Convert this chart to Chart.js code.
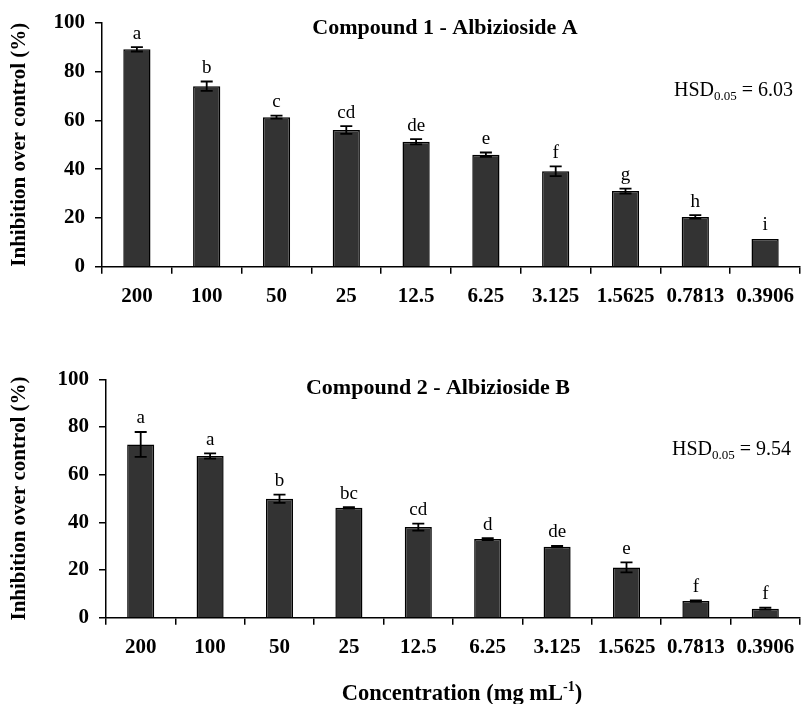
<!DOCTYPE html>
<html>
<head>
<meta charset="utf-8">
<script src="https://cdn.jsdelivr.net/npm/chart.js@4"></script>
<style>
  html, body { margin: 0; padding: 0; background: #fff; }
  body { width: 801px; height: 704px; position: relative; overflow: hidden; }
  .wrap { position: absolute; left: 0; width: 801px; }
</style>
</head>
<body>
<div class="wrap" style="top:0;height:312px;"><canvas id="c1"></canvas></div>
<div class="wrap" style="top:340px;height:364px;"><canvas id="c2"></canvas></div>
<script>
const categories = ["200", "100", "50", "25", "12.5", "6.25", "3.125", "1.5625", "0.7813", "0.3906"];
const yTicks = [0, 20, 40, 60, 80, 100];

const compound1Values = [89.1, 74.0, 61.3, 56.0, 51.2, 45.9, 39.1, 31.0, 20.4, 11.4];
const compound1Errors = [0.9, 1.9, 0.6, 1.6, 1.1, 0.9, 2.0, 1.0, 0.7, 0];
const compound1Letters = ["a", "b", "c", "cd", "de", "e", "f", "g", "h", "i"];

const compound2Values = [72.7, 67.8, 49.9, 46.1, 38.0, 33.0, 29.8, 21.1, 7.0, 3.8];
const compound2Errors = [5.2, 1.1, 1.7, 0.3, 1.5, 0.4, 0.3, 2.1, 0.3, 0.4];
const compound2Letters = ["a", "a", "b", "bc", "cd", "d", "de", "e", "f", "f"];

const title1 = "Compound 1 - Albizioside A";
const title2 = "Compound 2 - Albizioside B";
const hsd1 = "6.03";
const hsd2 = "9.54";
const yTitle = "Inhibition over control (%)";

const SERIF = "'Liberation Serif', 'Times New Roman', serif";

function drawHSD(ctx, rightX, baseY, value) {
  ctx.save();
  ctx.fillStyle = '#000';
  ctx.textBaseline = 'alphabetic';
  ctx.textAlign = 'left';
  const big = "20px " + SERIF, small = "13px " + SERIF;
  ctx.font = big; const w1 = ctx.measureText("HSD").width;
  ctx.font = small; const w2 = ctx.measureText("0.05").width;
  ctx.font = big; const w3 = ctx.measureText(" = " + value).width;
  let x = rightX - (w1 + w2 + w3);
  ctx.font = big; ctx.fillText("HSD", x, baseY); x += w1;
  ctx.font = small; ctx.fillText("0.05", x, baseY + 4); x += w2;
  ctx.font = big; ctx.fillText(" = " + value, x, baseY);
  ctx.restore();
}

function makePlugin(opts) {
  return {
    id: 'extras' + opts.key,
    afterDatasetsDraw(chart) {
      const ctx = chart.ctx;
      const y = chart.scales.y;
      const meta = chart.getDatasetMeta(0);
      ctx.save();
      ctx.strokeStyle = '#000';
      ctx.lineWidth = 1.8;
      ctx.fillStyle = '#000';
      ctx.font = "19px " + SERIF;
      ctx.textAlign = 'center';
      ctx.textBaseline = 'alphabetic';
      opts.values.forEach((v, i) => {
        const e = opts.errors[i];
        const x = meta.data[i].x;
        const yt = y.getPixelForValue(v + e);
        const yb = y.getPixelForValue(v - e);
        if (e > 0) {
          ctx.beginPath();
          ctx.moveTo(x, yt); ctx.lineTo(x, yb);
          ctx.moveTo(x - 6, yt); ctx.lineTo(x + 6, yt);
          ctx.moveTo(x - 6, yb); ctx.lineTo(x + 6, yb);
          ctx.stroke();
        }
        ctx.fillText(opts.letters[i], x, yt - 8.5);
      });
      // title
      ctx.font = "bold 22px " + SERIF;
      ctx.fillText(opts.title, opts.titleX, opts.titleY);
      ctx.restore();
      drawHSD(ctx, opts.hsdRight, opts.hsdY, opts.hsd);
      if (opts.xTitle) {
        ctx.save();
        ctx.fillStyle = '#000';
        ctx.textBaseline = 'alphabetic';
        ctx.textAlign = 'left';
        const big = "bold 22.5px " + SERIF, small = "bold 14px " + SERIF;
        const a = "Concentration (mg mL", s = "-1", b = ")";
        ctx.font = big; const wa = ctx.measureText(a).width, wb = ctx.measureText(b).width;
        ctx.font = small; const ws = ctx.measureText(s).width;
        let x = opts.xTitleX - (wa + ws + wb) / 2;
        ctx.font = big; ctx.fillText(a, x, opts.xTitleY); x += wa;
        ctx.font = small; ctx.fillText(s, x, opts.xTitleY - 9); x += ws;
        ctx.font = big; ctx.fillText(b, x, opts.xTitleY);
        ctx.restore();
      }
    }
  };
}

function buildChart(id, cfg) {
  return new Chart(document.getElementById(id), {
    type: 'bar',
    data: {
      labels: categories,
      datasets: [{
        data: cfg.values,
        backgroundColor: '#333333',
        borderColor: '#000000',
        borderWidth: 1.5,
        categoryPercentage: 1.0,
        barPercentage: 0.39
      }]
    },
    options: {
      responsive: true,
      maintainAspectRatio: false,
      animation: false,
      layout: { padding: { top: cfg.padTop, right: 1, left: 0, bottom: 0 } },
      plugins: { legend: { display: false }, tooltip: { enabled: false }, title: { display: false } },
      scales: {
        x: {
          offset: true,
          border: { display: true, color: '#000', width: 1.5 },
          grid: { display: true, drawOnChartArea: false, drawTicks: true, tickLength: 7, color: '#000', lineWidth: 1.5, offset: true },
          ticks: { color: '#000', font: { family: SERIF, size: 21, weight: 'bold' }, padding: 10, maxRotation: 0, autoSkip: false },
          afterFit(scale) { scale.height = cfg.xHeight; scale.paddingLeft = 0; scale.paddingRight = 0; }
        },
        y: {
          min: 0, max: 100,
          afterBuildTicks(scale) { scale.ticks = yTicks.map(v => ({ value: v })); },
          border: { display: true, color: '#000', width: 1.5 },
          grid: { display: true, drawOnChartArea: false, drawTicks: true, tickLength: 7, color: '#000', lineWidth: 1.5 },
          ticks: { color: '#000', font: { family: SERIF, size: 21, weight: 'bold' }, padding: 10 },
          title: { display: true, text: yTitle, color: '#000', font: { family: SERIF, size: 21, weight: 'bold' }, padding: { top: 7, bottom: 0 } },
          afterFit(scale) { scale.width = cfg.yWidth; scale.paddingTop = 0; scale.paddingBottom = 0; }
        }
      }
    },
    plugins: [makePlugin(cfg)]
  });
}

buildChart('c1', {
  key: 1, values: compound1Values, errors: compound1Errors, letters: compound1Letters,
  title: title1, titleX: 445, titleY: 34, hsd: hsd1, hsdRight: 793, hsdY: 96,
  padTop: 22.7, xHeight: 312 - 266.7, yWidth: 102
});
buildChart('c2', {
  key: 2, values: compound2Values, errors: compound2Errors, letters: compound2Letters,
  title: title2, titleX: 438, titleY: 394 - 340, hsd: hsd2, hsdRight: 791, hsdY: 455 - 340,
  padTop: 379.3 - 340, xHeight: 364 - 277.7, yWidth: 106,
  xTitle: true, xTitleX: 462, xTitleY: 700 - 340
});
</script>
</body>
</html>
